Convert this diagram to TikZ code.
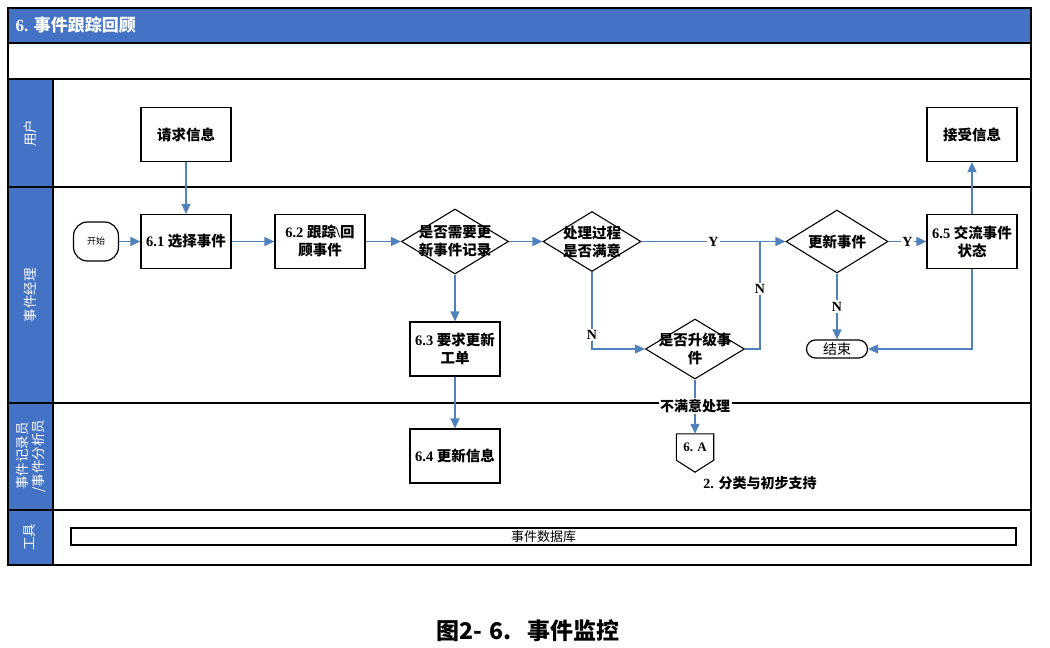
\documentclass[tikz,border=0pt]{standalone}
\usepackage{fontspec}
\setmainfont{Liberation Serif}
\newfontfamily\cjk{Noto Sans CJK SC}
\usetikzlibrary{arrows.meta,calc,shapes.geometric}
\definecolor{laneblue}{RGB}{68,114,196}
\definecolor{flow}{RGB}{79,129,189}
\tikzset{
  box/.style={draw, line width=1.2pt, minimum width=90, minimum height=54, align=center,
    font=\bfseries\fontsize{14.5}{18}\selectfont, inner sep=2},
  dia/.style={draw, diamond, line width=1.1pt, inner sep=0},
  diatext/.style={align=center, font=\bfseries\fontsize{14.5}{18}\selectfont},
  flowline/.style={draw=flow, line width=1.3pt, -{Triangle[length=10pt,width=9pt]}},
  plainflow/.style={draw=flow, line width=1.3pt},
  lab/.style={fill=white, inner sep=1.5, font=\bfseries\fontsize{14}{16}\selectfont},
  lanehead/.style={draw, line width=1.2pt, fill=laneblue},
  lanetext/.style={text=white, rotate=90, align=center, font=\fontsize{13.5}{16}\selectfont},
  term/.style={draw, line width=1.2pt, align=center},
  frame/.style={draw, line width=1.6pt}
}
\begin{document}
\begin{tikzpicture}[x=1pt,y=-1pt]
\useasboundingbox (0,0) rectangle (1050,648);
% frame and lanes
\fill[laneblue] (8,8) rectangle (1031,43);
\node[anchor=west, text=white, font=\bfseries\fontsize{17}{20}\selectfont] (title) at (12,25) {6. {\cjk 事件跟踪回顾}};
\draw[lanehead] (8,79) rectangle (53,187);
\draw[lanehead] (8,187) rectangle (53,403);
\draw[lanehead] (8,403) rectangle (53,510);
\draw[lanehead] (8,510) rectangle (53,565);
\draw[line width=1.2pt] (8,43) -- (1031,43);
\draw[line width=1.2pt] (8,79) -- (1031,79);
\draw[line width=1.2pt] (53,187) -- (1031,187);
\draw[line width=1.6pt] (53,403) -- (1031,403);
\draw[line width=1.6pt] (53,510) -- (1031,510);
\draw[frame] (8,8) rectangle (1031,565);
\node[lanetext] (l1) at (30,133) {\cjk 用户};
\node[lanetext] (l2) at (30,295) {\cjk 事件经理};
\node[lanetext] (l3) at (31,456) {\cjk 事件记录员\\\cjk /事件分析员};
\node[lanetext] (l4) at (30,537) {\cjk 工具};
% nodes
\node[box] (req) at (186,134.5) {\cjk 请求信息};
\node[box] (acc) at (972,134.5) {\cjk 接受信息};
\node[term, rounded corners=14, minimum width=45, minimum height=39, font=\fontsize{9}{11}\selectfont, inner sep=0] (start) at (96,241.5) {\cjk 开始};
\node[box] (s61) at (186,241.5) {6.1 {\cjk 选择事件}};
\node[box] (s62) at (320,241.5) {6.2 {\cjk 跟踪}\textbackslash{\cjk 回}\\{\cjk 顾事件}};
\node[dia, minimum width=107, minimum height=65] (d1) at (455,241.5) {};
\node[diatext] (d1t) at (455,241.5) {\cjk 是否需要更\\\cjk 新事件记录};
\node[dia, minimum width=98, minimum height=60] (d2) at (592,241.5) {};
\node[diatext] (d2t) at (592,241.5) {\cjk 处理过程\\\cjk 是否满意};
\node[dia, minimum width=102, minimum height=63] (d3) at (837,241.5) {};
\node[diatext] (d3t) at (837,241.5) {\cjk 更新事件};
\node[box] (s65) at (972,241.5) {6.5 {\cjk 交流事件}\\{\cjk 状态}};
\node[box] (s63) at (455,349) {6.3 {\cjk 要求更新}\\{\cjk 工单}};
\node[dia, minimum width=99, minimum height=60] (d4) at (695,349) {};
\node[diatext] (d4t) at (695,349) {\cjk 是否升级事\\\cjk 件};
\node[term, rounded corners=9, minimum width=61, minimum height=18, inner sep=0, font=\fontsize{14}{16}\selectfont] (end) at (837,349) {\cjk 结束};
\node[box] (s64) at (455,456) {6.4 {\cjk 更新信息}};
\node[minimum width=37, minimum height=26, inner sep=0, font=\bfseries\fontsize{13}{15}\selectfont] (pent) at (695,447) {6. A};
\draw[line width=1.1pt] (pent.north west) -- (pent.north east) -- (pent.south east) -- ($(pent.south)+(0,12)$) -- (pent.south west) -- cycle;
\node[font=\bfseries\fontsize{14}{16}\selectfont] (ref2) at (760,483) {2. {\cjk 分类与初步支持}};
\node[draw, line width=1.2pt, minimum width=945, minimum height=17, inner sep=0, font=\fontsize{13}{15}\selectfont] (db) at (543.5,536.5) {\cjk 事件数据库};
\coordinate (jn) at (760,241.5);
% connectors
\draw[flowline] (req) -- (s61);
\draw[flowline] (start) -- (s61);
\draw[flowline] (s61) -- (s62);
\draw[flowline] (s62) -- (d1);
\draw[flowline] (d1) -- (d2);
\draw[flowline] (d1) -- (s63);
\draw[flowline] (s63) -- (s64);
\draw[flowline] (d2) -- node[lab]{Y} (d3);
\draw[flowline] (d2.south) |- node[lab, pos=0.41]{N} (d4.west);
\draw[plainflow] (d4.east) -| node[lab, pos=0.78]{N} (jn);
\draw[flowline] (d3) -- node[lab, inner sep=1]{Y} (s65);
\draw[flowline] (d3.south) -- node[lab]{N} (end.north);
\draw[flowline] (s65) -- (acc);
\draw[flowline] (s65.south) |- (end.east);
\draw[flowline] (d4.south) -- node[lab, pos=0.49]{\cjk 不满意处理} (pent.north);
% caption
\node[font=\bfseries\fontsize{23}{26}\selectfont] (cap) at (528,631) {\cjk 图2-\hspace{7pt}6.\hspace{16pt}事件监控};
\end{tikzpicture}
\end{document}
